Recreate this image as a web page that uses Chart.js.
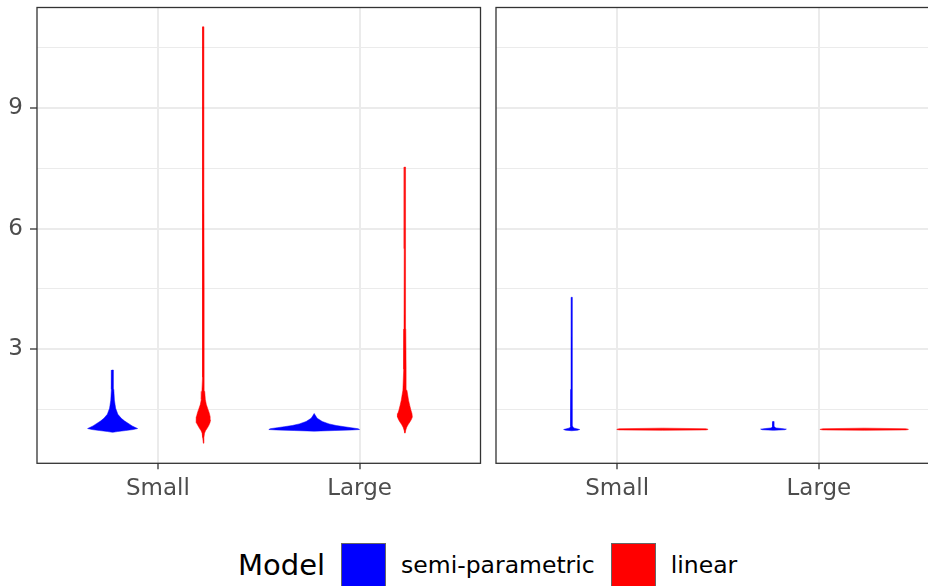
<!DOCTYPE html>
<html lang="en">
<head>
    <meta charset="UTF-8">
    <title>Violin plots by model</title>
    <script src="https://cdn.jsdelivr.net/npm/chart.js"></script>
    <style>
        html, body {
            margin: 0;
            padding: 0;
            width: 928px;
            height: 586px;
            overflow: hidden;
            background: white;
            font-family: 'DejaVu Sans', sans-serif;
        }
        .panel {
            position: absolute;
            top: 0;
            height: 520px;
        }
        #panel1 { left: 0; width: 484px; }
        #panel2 { left: 490px; width: 470px; }
        .legend {
            position: absolute;
            top: 543px;
            left: 238px;
            height: 44px;
            display: flex;
            align-items: center;
            color: black;
        }
        .legend .title { font-size: 29px; margin-right: 16px; }
        .legend .key {
            width: 43px;
            height: 43px;
            border: 1px solid #666;
            margin-right: 15px;
        }
        .legend .label { font-size: 23.5px; margin-right: 16px; }
    </style>
</head>
<body>
    <div class="panel" id="panel1"><canvas id="chart1" width="484" height="520"></canvas></div>
    <div class="panel" id="panel2"><canvas id="chart2" width="470" height="520"></canvas></div>
    <div class="legend">
        <span class="title">Model</span>
        <span class="key" style="background:#0000ff"></span>
        <span class="label">semi-parametric</span>
        <span class="key" style="background:#ff0000"></span>
        <span class="label">linear</span>
    </div>

    <script>
        const categories = ['Small', 'Large'];
        const models = ['semi-parametric', 'linear'];
        const modelColors = ['#0000ff', '#ff0000'];
        const yTickValues = [3, 6, 9];
        const yMinorValues = [1.5, 4.5, 7.5, 10.5];

        // violin outlines: value levels and half widths (in category units), left panel
        const p1SmallSemiY = [0.93, 0.95, 0.975, 1.00, 1.025, 1.05, 1.09, 1.14, 1.21, 1.28, 1.38, 1.53, 1.73, 2.00, 2.48];
        const p1SmallSemiW = [0, 0.025, 0.065, 0.102, 0.124, 0.113, 0.097, 0.082, 0.060, 0.043, 0.026, 0.015, 0.009, 0.006, 0.004];
        const p1SmallLinY = [0.66, 0.80, 0.91, 0.97, 1.03, 1.10, 1.17, 1.24, 1.32, 1.42, 1.52, 1.62, 1.75, 1.95, 2.30, 3.00, 4.50, 7.00, 11.02];
        const p1SmallLinW = [0, 0.003, 0.006, 0.011, 0.019, 0.027, 0.033, 0.036, 0.034, 0.029, 0.022, 0.015, 0.010, 0.007, 0.005, 0.004, 0.0035, 0.003, 0.003];
        const p1LargeSemiY = [0.96, 0.975, 0.99, 1.00, 1.02, 1.045, 1.07, 1.10, 1.14, 1.20, 1.28, 1.34, 1.40];
        const p1LargeSemiW = [0, 0.099, 0.188, 0.225, 0.218, 0.183, 0.149, 0.109, 0.074, 0.040, 0.015, 0.007, 0];
        const p1LargeLinY = [0.91, 0.98, 1.06, 1.13, 1.19, 1.25, 1.31, 1.40, 1.48, 1.60, 1.73, 1.98, 2.50, 3.50, 5.50, 7.53];
        const p1LargeLinW = [0, 0.004, 0.009, 0.017, 0.025, 0.032, 0.037, 0.035, 0.030, 0.024, 0.018, 0.010, 0.006, 0.0045, 0.0035, 0.003];

        // right panel
        const p2SmallSemiY = [0.97, 0.985, 1.00, 1.02, 1.04, 1.08, 2.00, 4.29];
        const p2SmallSemiW = [0, 0.030, 0.040, 0.025, 0.010, 0.005, 0.0035, 0.003];
        const p2SmallLinY = [0.98, 0.99, 1.00, 1.01, 1.02, 1.035];
        const p2SmallLinW = [0, 0.215, 0.225, 0.225, 0.215, 0];
        const p2LargeSemiY = [0.98, 0.995, 1.01, 1.025, 1.04, 1.07, 1.20];
        const p2LargeSemiW = [0, 0.055, 0.064, 0.040, 0.012, 0.005, 0.003];
        const p2LargeLinY = [0.98, 0.99, 1.00, 1.01, 1.02, 1.035];
        const p2LargeLinW = [0, 0.205, 0.218, 0.218, 0.205, 0];

        const dodge = 0.225;

        function violin(catIndex, modelIndex, ys, ws) {
            const center = catIndex + 1 + (modelIndex === 0 ? -dodge : dodge);
            const pts = [];
            for (let i = 0; i < ys.length; i++) pts.push({x: center + ws[i], y: ys[i]});
            for (let i = ys.length - 1; i >= 0; i--) pts.push({x: center - ws[i], y: ys[i]});
            return {
                label: models[modelIndex],
                data: pts,
                showLine: true,
                fill: 'shape',
                backgroundColor: modelColors[modelIndex],
                borderColor: modelColors[modelIndex],
                borderWidth: 0.5,
                pointRadius: 0,
                tension: 0
            };
        }

        const panelBorder = {
            id: 'panelBorder',
            afterDatasetsDraw(chart) {
                const a = chart.chartArea;
                const ctx = chart.ctx;
                ctx.save();
                ctx.strokeStyle = '#333333';
                ctx.lineWidth = 1.3;
                ctx.strokeRect(a.left, a.top, a.right - a.left, a.bottom - a.top);
                ctx.restore();
            }
        };

        function noPad(s) {
            s.paddingTop = 0;
            s.paddingBottom = 0;
            s.paddingLeft = 0;
            s.paddingRight = 0;
        }

        function makeChart(id, datasets, showY) {
            return new Chart(document.getElementById(id), {
                type: 'scatter',
                data: { datasets },
                options: {
                    responsive: false,
                    animation: false,
                    devicePixelRatio: 1,
                    layout: { padding: { top: 7.5, right: showY ? 3.5 : 20, left: 0, bottom: 0 } },
                    plugins: { legend: { display: false }, tooltip: { enabled: false } },
                    scales: {
                        x: {
                            type: 'linear',
                            min: 0.4,
                            max: 2.6,
                            afterBuildTicks: s => { s.ticks = categories.map((c, i) => ({value: i + 1})); },
                            afterFit: s => { s.height = 520 - 463.3; noPad(s); },
                            ticks: {
                                callback: v => categories[v - 1],
                                color: '#4d4d4d',
                                font: { family: 'DejaVu Sans', size: 23 },
                                padding: 6,
                                maxRotation: 0
                            },
                            grid: {
                                color: '#ebebeb',
                                lineWidth: 2,
                                tickColor: '#333333',
                                tickWidth: 1.3,
                                tickLength: 6
                            },
                            border: { display: false }
                        },
                        y: {
                            type: 'linear',
                            min: 0.16,
                            max: 11.5,
                            afterBuildTicks: s => {
                                s.ticks = yMinorValues.concat(yTickValues).sort((a, b) => a - b).map(v => ({value: v}));
                            },
                            afterFit: s => { s.width = showY ? 37 : 6; noPad(s); },
                            ticks: {
                                display: showY,
                                callback: v => yTickValues.includes(v) ? String(v) : '',
                                color: '#4d4d4d',
                                font: { family: 'DejaVu Sans', size: 23 },
                                padding: 7
                            },
                            grid: {
                                color: '#ebebeb',
                                lineWidth: c => yTickValues.includes(c.tick.value) ? 2 : 1,
                                drawTicks: showY,
                                tickColor: c => yTickValues.includes(c.tick.value) ? '#333333' : 'rgba(0,0,0,0)',
                                tickWidth: 1.3,
                                tickLength: 7
                            },
                            border: { display: false }
                        }
                    }
                },
                plugins: [panelBorder]
            });
        }

        makeChart('chart1', [
            violin(0, 0, p1SmallSemiY, p1SmallSemiW),
            violin(0, 1, p1SmallLinY, p1SmallLinW),
            violin(1, 0, p1LargeSemiY, p1LargeSemiW),
            violin(1, 1, p1LargeLinY, p1LargeLinW)
        ], true);

        makeChart('chart2', [
            violin(0, 0, p2SmallSemiY, p2SmallSemiW),
            violin(0, 1, p2SmallLinY, p2SmallLinW),
            violin(1, 0, p2LargeSemiY, p2LargeSemiW),
            violin(1, 1, p2LargeLinY, p2LargeLinW)
        ], false);
    </script>
</body>
</html>
